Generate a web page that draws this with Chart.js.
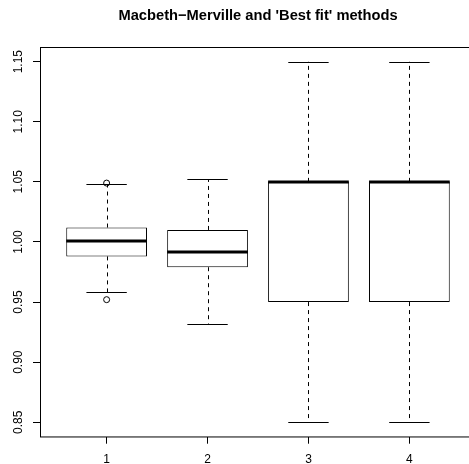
<!DOCTYPE html>
<html>
<head>
<meta charset="utf-8">
<script src="https://cdnjs.cloudflare.com/ajax/libs/Chart.js/4.4.0/chart.umd.min.js"></script>
<style>
  html, body { margin: 0; padding: 0; overflow: hidden; background: #fff; }
  canvas { display: block; }
</style>
</head>
<body>
<canvas id="boxChart" width="476" height="464"></canvas>
<script>
// data
const categories = [1, 2, 3, 4];
const xTickLabels = ["1", "2", "3", "4"];
const lowWhisker = [0.958, 0.932, 0.85, 0.85];
const q1 = [0.988, 0.979, 0.95, 0.95];
const median = [1.001, 0.992, 1.05, 1.05];
const q3 = [1.012, 1.010, 1.05, 1.05];
const highWhisker = [1.048, 1.052, 1.15, 1.15];
const outliers = [[0.952, 1.049], [], [], []];
const yTicks = [0.85, 0.9, 0.95, 1.0, 1.05, 1.1, 1.15];
const yTickLabels = ["0.85", "0.90", "0.95", "1.00", "1.05", "1.10", "1.15"];

const FONT = "'Liberation Sans', Arial, Helvetica, sans-serif";

const boxData = categories.map((c, i) => ({ x: c, y: [q1[i], q3[i]] }));
const outlierData = [];
categories.forEach((c, i) => outliers[i].forEach(v => outlierData.push({ x: c, y: v })));

// whiskers, staples and medians, drawn through the chart scales
const boxPlotExtras = {
  id: "boxPlotExtras",
  afterDatasetsDraw(chart) {
    const { ctx, scales: { x, y } } = chart;
    ctx.save();
    ctx.strokeStyle = "#000";
    categories.forEach((c, i) => {
      const px = x.getPixelForValue(c);
      const halfBox = (x.getPixelForValue(c + 0.4) - x.getPixelForValue(c - 0.4)) / 2;
      const halfCap = halfBox / 2;
      const lx = Math.round(px) + 0.5;
      // dashed whiskers
      ctx.lineWidth = 1;
      ctx.setLineDash([4, 4]);
      ctx.beginPath();
      ctx.moveTo(lx, y.getPixelForValue(q3[i]));
      ctx.lineTo(lx, y.getPixelForValue(highWhisker[i]));
      ctx.moveTo(lx, y.getPixelForValue(q1[i]));
      ctx.lineTo(lx, y.getPixelForValue(lowWhisker[i]));
      ctx.stroke();
      // staples
      ctx.setLineDash([]);
      ctx.beginPath();
      [highWhisker[i], lowWhisker[i]].forEach(v => {
        const py = Math.round(y.getPixelForValue(v)) + 0.5;
        ctx.moveTo(px - halfCap, py);
        ctx.lineTo(px + halfCap, py);
      });
      ctx.stroke();
      // median
      ctx.lineWidth = 3;
      ctx.beginPath();
      const my = Math.round(y.getPixelForValue(median[i]));
      ctx.moveTo(px - halfBox, my);
      ctx.lineTo(px + halfBox, my);
      ctx.stroke();
    });
    // plot frame
    const a = chart.chartArea;
    ctx.lineWidth = 1;
    ctx.strokeRect(Math.round(a.left) + 0.5, Math.round(a.top) + 0.5, a.right - a.left, a.bottom - a.top);
    ctx.restore();
  }
};

const ctx = document.getElementById("boxChart").getContext("2d");

new Chart(ctx, {
  data: {
    datasets: [
      {
        type: "bar",
        data: boxData,
        backgroundColor: "#fff",
        borderColor: "#000",
        borderWidth: 1,
        borderSkipped: false,
        categoryPercentage: 0.8,
        barPercentage: 1,
      },
      {
        type: "scatter",
        data: outlierData,
        pointStyle: "circle",
        pointRadius: 3,
        pointBorderWidth: 1,
        pointBackgroundColor: "rgba(0,0,0,0)",
        pointBorderColor: "#000",
      },
    ],
  },
  options: {
    responsive: false,
    animation: false,
    layout: { padding: 0, autoPadding: false },
    plugins: {
      legend: { display: false },
      tooltip: { enabled: false },
      title: {
        display: true,
        text: "Macbeth\u2212Merville and 'Best fit' methods",
        fullSize: false,
        color: "#000",
        font: { family: FONT, size: 14.7, weight: "bold" },
        padding: { top: 7, bottom: 22.6 },
      },
    },
    scales: {
      x: {
        type: "linear",
        min: 0.34,
        max: 4.66,
        offset: false,
        afterBuildTicks(scale) {
          scale.ticks = categories.map(v => ({ value: v }));
        },
        afterFit(scale) {
          scale.height = 27.3;
        },
        ticks: {
          color: "#000",
          padding: 9,
          font: { family: FONT, size: 12 },
          callback: (v) => xTickLabels[categories.indexOf(v)],
        },
        grid: {
          offset: false,
          drawOnChartArea: false,
          tickLength: 7,
          color: "#000",
        },
        border: { display: false },
      },
      y: {
        type: "linear",
        min: 0.838,
        max: 1.162,
        afterBuildTicks(scale) {
          scale.ticks = yTicks.map(v => ({ value: v }));
        },
        afterFit(scale) {
          scale.width = 40;
        },
        ticks: {
          color: "#000",
          minRotation: 90,
          maxRotation: 90,
          crossAlign: "center",
          padding: 2.3,
          font: { family: FONT, size: 12 },
          callback: (v) => yTickLabels[yTicks.findIndex(t => Math.abs(t - v) < 1e-9)],
        },
        grid: {
          drawOnChartArea: false,
          tickLength: 7,
          color: "#000",
        },
        border: { display: false },
      },
    },
  },
  plugins: [boxPlotExtras],
});
</script>
</body>
</html>
